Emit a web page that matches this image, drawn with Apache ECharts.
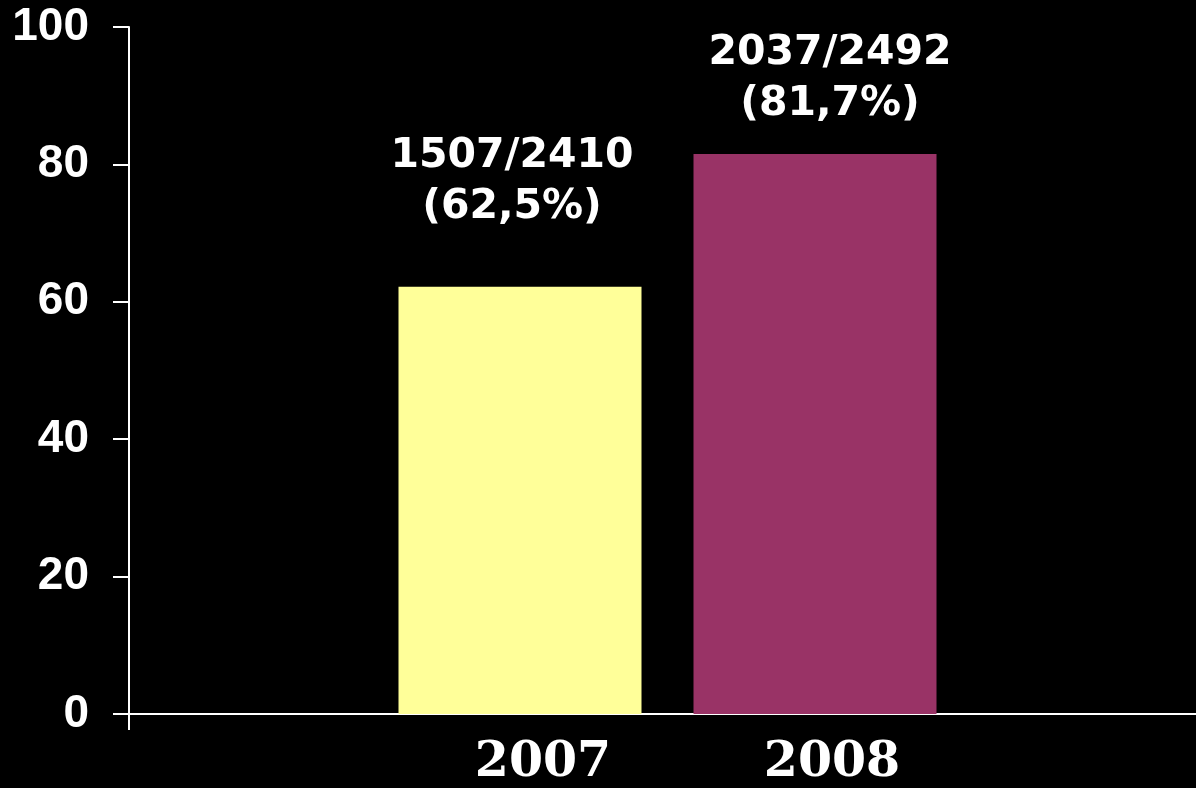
<!DOCTYPE html>
<html>
<head>
<meta charset="utf-8">
<script src="https://cdn.jsdelivr.net/npm/echarts@6/dist/echarts.min.js"></script>
<style>
  html, body { margin: 0; padding: 0; background: #000; }
  #chart { width: 1196px; height: 788px; }
</style>
</head>
<body>
<div id="chart"></div>
<script>
// data
const years = ["2007", "2008"];
const values = [62.2, 81.5];
const counts = ["1507/2410", "2037/2492"];
const percents = ["(62,5%)", "(81,7%)"];
const colors = ["#FFFF99", "#993366"];
const yTicks = [0, 20, 40, 60, 80, 100];

// per-bar label placement
const labelDistance = [54, 24];
const labelShiftX = [-8, 15];

const chart = echarts.init(document.getElementById("chart"));

const options = {
  backgroundColor: "#000",
  animation: false,
  grid: [
    // runs a little past the right edge, as in the original slide
    { left: 129, width: 1077, top: 27, bottom: 74, outerBoundsMode: "none" },
    // helper grid used only to place the year labels
    { left: 398.5, width: 578, top: 27, bottom: 74, outerBoundsMode: "none" },
  ],
  xAxis: [
    {
      type: "category",
      data: [""],
      axisLine: { lineStyle: { color: "#fff", width: 2 } },
      axisTick: { show: true, length: 16, lineStyle: { color: "#fff", width: 2 } },
      axisLabel: { show: false },
      splitLine: { show: false },
    },
    {
      type: "category",
      gridIndex: 1,
      data: years,
      axisLine: { show: false },
      axisTick: { show: false },
      splitLine: { show: false },
      axisLabel: {
        color: "#fff",
        fontFamily: "DejaVu Serif",
        fontWeight: "bold",
        fontSize: 49,
        margin: 25,
      },
    },
  ],
  yAxis: [
    {
      type: "value",
      min: yTicks[0],
      max: yTicks[yTicks.length - 1],
      interval: 20,
      axisLine: { show: true, lineStyle: { color: "#fff", width: 2 } },
      axisTick: { show: true, length: 16, lineStyle: { color: "#fff", width: 2 } },
      splitLine: { show: false },
      axisLabel: {
        color: "#fff",
        fontFamily: "Liberation Sans",
        fontWeight: "bold",
        fontSize: 46,
        margin: 40,
      },
    },
    { type: "value", gridIndex: 1, show: false, min: 0, max: 100 },
  ],
  series: years.map((year, i) => ({
    type: "bar",
    name: year,
    data: [values[i]],
    barWidth: 243,
    barGap: "21.4%",
    itemStyle: { color: colors[i] },
    label: {
      show: true,
      position: "top",
      distance: labelDistance[i],
      offset: [labelShiftX[i], 0],
      color: "#fff",
      fontFamily: "DejaVu Sans",
      fontWeight: "bold",
      fontSize: 41,
      lineHeight: 51,
      align: "center",
      formatter: () => counts[i] + "\n" + percents[i],
    },
  })),
};

chart.setOption(options);
</script>
</body>
</html>
